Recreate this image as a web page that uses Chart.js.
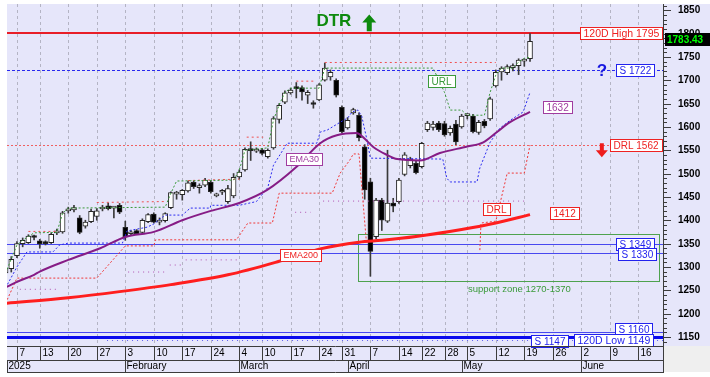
<!DOCTYPE html>
<html>
<head>
<meta charset="utf-8">
<title>DTR</title>
<script src="https://cdn.jsdelivr.net/npm/chart.js@4.4.1/dist/chart.umd.min.js"></script>
<style>
  html, body { margin: 0; padding: 0; background: #fff; }
  canvas { display: block; }
</style>
</head>
<body>
<canvas id="c" width="710" height="377"></canvas>
<script>
// trading days, index 0 = 2 Jan 2025
const days = [
  'Jan 2','Jan 3','Jan 7','Jan 8','Jan 9','Jan 10','Jan 13','Jan 14','Jan 15','Jan 16','Jan 17',
  'Jan 20','Jan 21','Jan 22','Jan 23','Jan 24','Jan 27','Jan 28','Jan 29','Jan 30','Jan 31',
  'Feb 3','Feb 4','Feb 5','Feb 6','Feb 7','Feb 10','Feb 11','Feb 12','Feb 13','Feb 14',
  'Feb 17','Feb 18','Feb 19','Feb 20','Feb 21','Feb 24','Feb 25','Feb 26','Feb 27','Feb 28',
  'Mar 4','Mar 5','Mar 6','Mar 7','Mar 10','Mar 11','Mar 12','Mar 13','Mar 14',
  'Mar 17','Mar 18','Mar 19','Mar 20','Mar 21','Mar 24','Mar 25','Mar 26','Mar 27',
  'Mar 31','Apr 1','Apr 2','Apr 3','Apr 4','Apr 7','Apr 8','Apr 9','Apr 10','Apr 11',
  'Apr 14','Apr 15','Apr 16','Apr 17','Apr 22','Apr 23','Apr 24','Apr 25',
  'Apr 28','Apr 29','Apr 30','May 2','May 5','May 6','May 7','May 8','May 9',
  'May 12','May 13','May 14','May 15','May 16','May 19','May 20'
];

const open = [
  1287,1296,1324,1350,1352,1364,1356,1353,1352,1373,
  1375,1420,1422,1405,1387,1397,1408,1424,1431,1426,
  1432,1385,1371,1378,1374,1397,1413,1396,1399,1427,
  1456,1455,1463,1481,1470,1475,1481,1452,1460,1440,
  1452,1493,1508,1551,1548,1551,1536,1555,1616,1653,
  1673,1683,1684,1668,1650,1658,1700,1707,1700,1642,
  1598,1630,1625,1557,1482,1365,1443,1398,1437,1440,
  1498,1517,1522,1515,1594,1599,1608,1607,1587,1606,
  1600,1624,1623,1588,1612,1617,1688,1718,1716,1727,
  1731,1741,1746
];
const high = [
  1299,1322,1354,1362,1369,1368,1359,1356,1373,1381,
  1419,1428,1432,1410,1400,1424,1425,1432,1437,1430,
  1436,1398,1378,1380,1403,1414,1416,1405,1416,1461,
  1462,1466,1484,1484,1478,1490,1485,1458,1466,1475,
  1500,1508,1555,1568,1555,1554,1553,1622,1650,1677,
  1683,1695,1688,1678,1656,1693,1737,1722,1703,1645,
  1620,1640,1630,1562,1490,1447,1447,1550,1447,1490,
  1545,1535,1527,1567,1612,1612,1612,1612,1602,1614,
  1627,1628,1627,1614,1616,1664,1722,1729,1733,1735,
  1746,1746,1800
];
const low = [
  1284,1289,1320,1343,1350,1358,1340,1347,1350,1369,
  1372,1415,1418,1371,1383,1395,1400,1420,1422,1405,
  1414,1357,1368,1369,1372,1395,1394,1390,1396,1425,
  1445,1443,1460,1468,1458,1472,1458,1450,1455,1436,
  1448,1488,1505,1528,1545,1540,1533,1552,1608,1650,
  1670,1662,1657,1650,1640,1656,1698,1700,1664,1587,
  1595,1627,1570,1445,1280,1360,1378,1395,1418,1436,
  1495,1512,1499,1512,1590,1593,1590,1580,1582,1562,
  1597,1617,1587,1584,1598,1614,1685,1700,1712,1720,
  1712,1730,1740
];
const close = [
  1297,1316,1350,1357,1366,1363,1349,1350,1370,1375,
  1416,1424,1427,1374,1396,1419,1420,1427,1425,1426,
  1417,1364,1375,1371,1400,1412,1396,1397,1414,1459,
  1458,1464,1480,1472,1474,1486,1461,1456,1461,1468,
  1492,1503,1552,1549,1550,1543,1550,1618,1646,1673,
  1679,1682,1675,1674,1648,1690,1726,1717,1668,1590,
  1614,1637,1577,1465,1333,1443,1400,1437,1430,1486,
  1540,1531,1502,1565,1608,1606,1594,1583,1597,1568,
  1623,1625,1590,1610,1602,1660,1717,1726,1729,1729,
  1743,1743,1783.43
];

// indicator lines, read at day positions
const ema30Day = [0,2,5,6,11,16.6,21,26,31,36,41,45.9,51,55.2,58.1,61.6,62.7,64.5,66.9,68.7,72.7,76.2,81,83.8,86.2,88.5,92];
const ema30 = [1256,1268,1283,1290,1315,1340,1364,1375,1400,1420,1437,1465,1514,1565,1582,1587,1578,1557,1540,1531,1528,1544,1558,1567,1589,1610,1632];

const ema200Day = [0,11,20,29,39,48,55,62,66,72,80,86,92];
const ema200 = [1222,1234,1247,1262,1283,1312,1338,1353,1357,1365,1380,1394,1412];

const urlDay = [0,2,3,4,5,9,10,11,28,29,30,40,41,42,46,47,48,49,50,55,56,75,77,78,80,81,84,85,86,87,89,90,91,92];
const urlLevel = [1287,1347,1357,1365,1373,1374,1415,1426,1428,1458,1484,1486,1507,1550,1555,1615,1647,1674,1683,1683,1726,1726,1674,1636,1636,1625,1625,1674,1711,1726,1726,1739,1747,1749];

const highTrailDay = [4,9,9.5,16,28,28.5,32,41,41.5,42.3,45.2,45.5,51,54,54.5,56,86];
const highTrail = [1376,1376,null,1438,1440,null,1485,1488,null,1578,1578,null,1698,1698,null,1738,1738];

const drlDay = [0,2,16,21,26,26.3,40.5,42.5,46.8,48,57.3,58.7,60.4,61,62,63.3,63.5,83.2,83.4,86,87.5,88,91,92];
const drlLevel = [1222,1276,1276,1345,1345,1358,1358,1394,1394,1458,1458,1501,1529,1542,1542,1353,null,1336,1394,1398,1475,1501,1501,1561];

const bandDay = [0,2,3.75,8.3,9.5,11,20.5,21.3,24.8,26,28,31,32.4,35.9,36,41,44,46,47,49.4,54.6,55.2,56.4,58.7,60,60.8,61.8,62.5,63.4,64,76.7,77.4,78,82.7,83.2,85,86.7,88.5,90.8,92];
const bandLevel = [1255,1300,1332,1332,1347,1351,1351,1377,1385,1392,1411,1411,1426,1426,1432,1432,1440,1470,1518,1565,1565,1589,1593,1610,1619,1632,1636,1622,1572,1533,1531,1490,1482,1482,1512,1567,1597,1614,1632,1674];

const stopDay = [2.5,9,9.5,21.5,28,28.3,28.8,31.3,31.5,31.6,41,41.5,50.8,53.5,54,55.7,91];
const stopLevel = [1252,1252,null,1289,1289,null,1304,1304,null,1315,1315,null,1417,1417,null,1441,1441];

// horizontal levels
const levelValues = [1801, 1722, 1562, 1349, 1330, 1160, 1149, 1143];

// axis ticks
const weekIdx = [2,6,11,16,21,26,31,36,41,45,50,55,59,64,69,73,77,81,86,91,96,101,106,111];
const weekLabels = ['7','13','20','27','3','10','17','24','4','10','17','24','31','7','14','22','28','5','12','19','26','2','9','16'];
const monthIdx = [0,21,41,60,80,101];
const monthLabels = ['2025','February','March','April','May','June'];
const yTicks = [1150,1200,1250,1300,1350,1400,1450,1500,1550,1600,1650,1700,1750,1800,1850];

const FONT = '"Liberation Sans", Arial, sans-serif';
const RED = '#EE2222', BLUE = '#2222EE', PURPLE = '#A03CA0', GREEN = '#3A9A3A';
const LAV = '#E6E6FA';

const levelStyles = [
  { color: '#E81E28', width: 2, dash: [] },
  { color: '#2828F0', width: 1, dash: [3, 2] },
  { color: '#F06060', width: 1, dash: [2, 2] },
  { color: '#4848F0', width: 1, dash: [] },
  { color: '#4848F0', width: 1, dash: [] },
  { color: '#4848F0', width: 1, dash: [] },
  { color: '#0A0AEE', width: 3, dash: [] },
  { color: '#6060F0', width: 1, dash: [1, 4], from: 17.8 }
];

const tags = [
  { text: '120D High 1795', right: 1, v: 1801, color: RED, size: 10.5 },
  { text: 'S 1722', right: 9, v: 1722, color: BLUE, size: 10 },
  { text: 'DRL 1562', right: 1, v: 1562, color: RED, size: 10 },
  { text: 'S 1349', right: 9, v: 1349, color: BLUE, size: 10 },
  { text: 'S 1330', right: 7, v: 1327, color: BLUE, size: 10 },
  { text: 'S 1160', right: 11, v: 1166, color: BLUE, size: 10 },
  { text: '120D Low 1149', right: 10, v: 1143, color: BLUE, size: 10.5 },
  { text: 'S 1147', at: 95.5, v: 1142, color: BLUE, size: 10 },
  { text: '1632', at: 96.9, v: 1642, color: PURPLE, size: 10 },
  { text: 'URL', at: 76.4, v: 1698, color: GREEN, size: 10 },
  { text: 'EMA30', at: 52.4, v: 1532, color: PURPLE, size: 9 },
  { text: 'DRL', at: 86.1, v: 1425, color: RED, size: 10 },
  { text: '1412', at: 98.05, v: 1415, color: RED, size: 10 },
  { text: 'EMA200', at: 51.7, v: 1325, color: RED, size: 9 }
];

const pts = (xs, ys) => xs.map((x, i) => ({ x: x, y: ys[i] }));

function drawTag(ctx, t, px, py, align) {
  ctx.font = t.size + 'px ' + FONT;
  const w = Math.ceil(ctx.measureText(t.text).width) + 6;
  const h = 12;
  const left = Math.round(align === 'right' ? px - w : px - w / 2) + 0.5;
  const top = Math.round(py - h / 2) + 0.5;
  ctx.fillStyle = '#fff';
  ctx.fillRect(left, top, w, h);
  ctx.setLineDash([]);
  ctx.lineWidth = 1;
  ctx.strokeStyle = t.color;
  ctx.strokeRect(left, top, w, h);
  ctx.fillStyle = t.color;
  ctx.textAlign = 'left';
  ctx.textBaseline = 'middle';
  ctx.fillText(t.text, left + 3, top + h / 2 + 0.5);
}

function hline(ctx, x1, x2, y) {
  ctx.beginPath(); ctx.moveTo(x1, y); ctx.lineTo(x2, y); ctx.stroke();
}
function vline(ctx, x, y1, y2) {
  ctx.beginPath(); ctx.moveTo(x, y1); ctx.lineTo(x, y2); ctx.stroke();
}

const deco = {
  id: 'deco',
  beforeDraw(chart) {
    const { ctx, chartArea: a, width, height } = chart;
    ctx.save();
    ctx.fillStyle = '#fff';
    ctx.fillRect(0, 0, width, height);
    ctx.fillStyle = LAV;
    ctx.fillRect(a.left, a.top, width - a.left, a.bottom - a.top);
    ctx.fillRect(a.left, a.bottom, a.right - a.left, 26);
    ctx.fillStyle = '#EFEFEF';
    ctx.fillRect(a.right, a.bottom, width - a.right, 26);
    ctx.restore();
  },
  beforeDatasetsDraw(chart) {
    const { ctx, chartArea: a, scales: { x, y } } = chart;
    ctx.save();
    ctx.beginPath();
    ctx.rect(a.left, a.top, a.right - a.left, a.bottom - a.top);
    ctx.clip();
    // week grid
    ctx.strokeStyle = '#B4B4C4';
    ctx.lineWidth = 1;
    ctx.setLineDash([3, 3]);
    weekIdx.forEach(i => {
      const px = Math.round(x.getPixelForValue(i)) + 0.5;
      vline(ctx, px, a.top, a.bottom);
    });
    // support zone box
    ctx.setLineDash([]);
    ctx.strokeStyle = '#4EA24E';
    const bx1 = Math.round(x.getPixelForValue(61.8)) + 0.5;
    const bx2 = Math.round(x.getPixelForValue(114.6)) + 0.5;
    const by1 = Math.round(y.getPixelForValue(1370)) + 0.5;
    const by2 = Math.round(y.getPixelForValue(1270)) + 0.5;
    ctx.strokeRect(bx1, by1, bx2 - bx1, by2 - by1);
    // horizontal levels
    levelValues.forEach((v, i) => {
      const s = levelStyles[i];
      ctx.strokeStyle = s.color;
      ctx.lineWidth = s.width;
      ctx.setLineDash(s.dash);
      let py = y.getPixelForValue(v);
      py = s.width % 2 ? Math.round(py) + 0.5 : Math.round(py);
      const x1 = s.from !== undefined ? x.getPixelForValue(s.from) : a.left;
      hline(ctx, x1, a.right, py);
    });
    ctx.restore();
  },
  afterDraw(chart) {
    const { ctx, chartArea: a, scales: { x, y }, width } = chart;
    ctx.save();
    ctx.setLineDash([]);

    // support zone caption
    ctx.font = '9.5px ' + FONT;
    ctx.fillStyle = GREEN;
    ctx.textAlign = 'left';
    ctx.textBaseline = 'middle';
    ctx.fillText('support zone 1270-1370', x.getPixelForValue(81.1), y.getPixelForValue(1252));

    // tags
    tags.forEach(t => {
      const py = y.getPixelForValue(t.v);
      if (t.right !== undefined) drawTag(ctx, t, a.right - t.right, py, 'right');
      else drawTag(ctx, t, x.getPixelForValue(t.at), py, 'center');
    });

    // DTR + arrow
    ctx.font = 'bold 17px ' + FONT;
    ctx.fillStyle = '#0E8A0E';
    ctx.textAlign = 'center';
    ctx.textBaseline = 'middle';
    ctx.fillText('DTR', x.getPixelForValue(57.6), y.getPixelForValue(1827));
    {
      const cx = x.getPixelForValue(63.8), top = y.getPixelForValue(1841), bot = y.getPixelForValue(1805);
      ctx.beginPath();
      ctx.moveTo(cx, top);
      ctx.lineTo(cx + 7, top + 8);
      ctx.lineTo(cx + 2.5, top + 8);
      ctx.lineTo(cx + 2.5, bot);
      ctx.lineTo(cx - 2.5, bot);
      ctx.lineTo(cx - 2.5, top + 8);
      ctx.lineTo(cx - 7, top + 8);
      ctx.closePath();
      ctx.fill();
    }
    // question mark
    ctx.font = 'bold 17px ' + FONT;
    ctx.fillStyle = '#1818E0';
    ctx.fillText('?', x.getPixelForValue(104.6), y.getPixelForValue(1719));
    // red down arrow
    {
      const cx = x.getPixelForValue(104.6), top = y.getPixelForValue(1565), bot = y.getPixelForValue(1535);
      ctx.fillStyle = '#EE1C1C';
      ctx.beginPath();
      ctx.moveTo(cx - 2, top);
      ctx.lineTo(cx + 2, top);
      ctx.lineTo(cx + 2, bot - 7);
      ctx.lineTo(cx + 6, bot - 7);
      ctx.lineTo(cx, bot);
      ctx.lineTo(cx - 6, bot - 7);
      ctx.lineTo(cx - 2, bot - 7);
      ctx.closePath();
      ctx.fill();
    }

    // y axis
    ctx.strokeStyle = '#3C3C3C';
    ctx.lineWidth = 1;
    vline(ctx, a.right + 0.5, a.top, a.bottom);
    for (let v = 1140; v <= 1860; v += 10) {
      const py = Math.round(y.getPixelForValue(v)) + 0.5;
      const len = v % 50 === 0 ? 8 : 4;
      hline(ctx, a.right, a.right + len, py);
    }
    ctx.font = 'bold 10px ' + FONT;
    ctx.fillStyle = '#000';
    ctx.textAlign = 'left';
    ctx.textBaseline = 'middle';
    yTicks.forEach(v => ctx.fillText(String(v), a.right + 15, y.getPixelForValue(v) + 0.5));

    // last price box
    {
      const py = y.getPixelForValue(close[close.length - 1]) - 2;
      ctx.fillStyle = '#000';
      ctx.fillRect(a.right + 2, Math.round(py - 6.5), width - a.right - 2, 13);
      ctx.fillStyle = '#00FF00';
      ctx.font = 'bold 10px ' + FONT;
      ctx.fillText('1783.43', a.right + 4, py + 0.5);
    }

    // x axis rows
    const r0 = a.bottom, r1 = a.bottom + 14, r2 = a.bottom + 26;
    ctx.strokeStyle = '#3C3C3C';
    hline(ctx, a.left, a.right + 1, r0 + 0.5);
    hline(ctx, a.left, a.right + 1, r1 + 0.5);
    hline(ctx, a.left, a.right + 1, r2 + 0.5);
    vline(ctx, a.right + 0.5, r0, r2);
    ctx.font = '10px ' + FONT;
    ctx.fillStyle = '#000';
    weekIdx.forEach((i, k) => {
      const px = Math.round(x.getPixelForValue(i)) + 0.5;
      vline(ctx, px, r0, r1);
      if (px + 10 < a.right) ctx.fillText(weekLabels[k], px + 2, r0 + 7.5);
    });
    monthIdx.forEach((i, k) => {
      const px = Math.max(a.left, Math.round(x.getPixelForValue(i))) + 0.5;
      vline(ctx, px, r1, r2);
      ctx.fillText(monthLabels[k], px + 1, r1 + 6.5);
    });
    ctx.restore();
  }
};

const lineDs = (label, data, color, width, dash, order, smooth) => ({
  type: 'line',
  label: label,
  data: data,
  borderColor: color,
  borderWidth: width,
  borderDash: dash,
  pointRadius: 0,
  fill: false,
  spanGaps: false,
  cubicInterpolationMode: smooth ? 'monotone' : 'default',
  tension: 0,
  order: order
});

new Chart(document.getElementById('c'), {
  type: 'bar',
  data: {
    datasets: [
      lineDs('EMA200', pts(ema200Day, ema200), '#FF1E1E', 3, [], 1, true),
      lineDs('EMA30', pts(ema30Day, ema30), '#861C86', 2, [], 1, true),
      lineDs('URL', pts(urlDay, urlLevel), GREEN, 1, [2, 2], 2, false),
      lineDs('High trail', pts(highTrailDay, highTrail), '#F05050', 1, [2, 3], 2, false),
      lineDs('DRL', pts(drlDay, drlLevel), '#F03838', 1, [2, 2], 2, false),
      lineDs('Band', pts(bandDay, bandLevel), '#2A2AF0', 1, [2, 2], 2, false),
      lineDs('Stop', pts(stopDay, stopLevel), '#B050B0', 1, [1, 4], 2, false),
      {
        type: 'bar',
        label: 'body',
        data: days.map((d, i) => ({ x: i, y: [open[i], close[i]] })),
        backgroundColor: c => close[c.dataIndex] >= open[c.dataIndex] ? '#FFFFFF' : '#000000',
        borderColor: '#262626',
        borderWidth: 1,
        borderSkipped: false,
        barThickness: 5,
        minBarLength: 2,
        grouped: false,
        order: 8
      },
      {
        type: 'bar',
        label: 'wick',
        data: days.map((d, i) => ({ x: i, y: [low[i], high[i]] })),
        backgroundColor: '#3A3A3A',
        borderWidth: 0,
        barThickness: 1,
        grouped: false,
        order: 9
      }
    ]
  },
  options: {
    responsive: false,
    animation: false,
    devicePixelRatio: 1,
    layout: { padding: { left: 7, top: 4, right: 0, bottom: 0 } },
    plugins: { legend: { display: false }, tooltip: { enabled: false } },
    scales: {
      x: {
        type: 'linear', min: 0.25, max: 115.33, offset: false,
        grid: { display: false }, border: { display: false },
        ticks: { display: false },
        afterFit(s) { s.height = 31; }
      },
      y: {
        type: 'linear', position: 'right', min: 1130.5, max: 1863.3,
        grid: { display: false }, border: { display: false },
        ticks: { display: false },
        afterFit(s) { s.width = 47; }
      }
    }
  },
  plugins: [deco]
});
</script>
</body>
</html>
